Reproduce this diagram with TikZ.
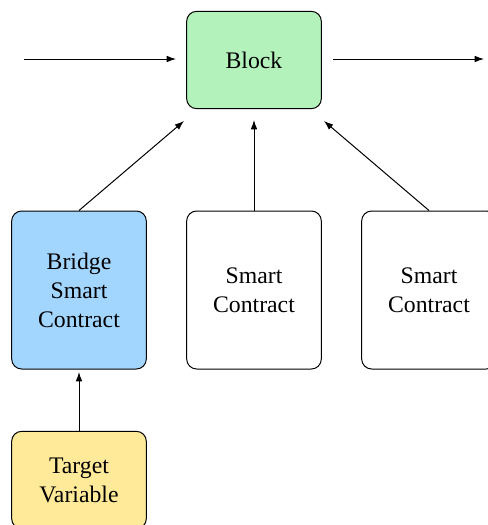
\documentclass[tikz,border=0pt]{standalone}
\usepackage{fontspec}
\setmainfont{Liberation Serif}
\newfontfamily\boxfont{Liberation Serif}
\usetikzlibrary{arrows.meta}
\definecolor{blockgreen}{RGB}{179,242,187}
\definecolor{bridgeblue}{RGB}{163,214,255}
\definecolor{targetyellow}{RGB}{255,234,153}
\tikzset{
  box/.style={draw=black, line width=0.75pt, rounded corners=7.5pt, align=center,
    minimum width=101pt, text width=90pt, font=\boxfont\fontsize{17.8}{21.8}\selectfont},
  shortbox/.style={box, minimum height=73pt},
  tallbox/.style={box, minimum height=118.5pt},
  conn/.style={line width=0.75pt, -{Latex[length=7pt,width=5pt]}}
}
\begin{document}
\begin{tikzpicture}[x=0.75pt,y=-0.75pt]
\useasboundingbox (0,0) rectangle (488,525);
\node[shortbox, fill=blockgreen] (block) at (254,60) {Block};
\node[tallbox, fill=bridgeblue] (bridge) at (79,290) {Bridge\\Smart\\Contract};
\node[tallbox, fill=white] (sc2) at (254,290) {Smart\\Contract};
\node[tallbox, fill=white] (sc3) at (429,290) {Smart\\Contract};
\node[shortbox, fill=targetyellow] (target) at (79,480) {Target\\Variable};
\coordinate (inL) at (24,59);
\coordinate (inR) at (176,59);
\coordinate (outL) at (333,59);
\coordinate (outR) at (484,59);
\coordinate (t1) at (184,121);
\coordinate (t2) at (254,120);
\coordinate (t3) at (324,121);
\coordinate (t4) at (79,372);
\draw[conn] (inL) -- (inR);
\draw[conn] (outL) -- (outR);
\draw[conn] (bridge.north) -- (t1);
\draw[conn] (sc2.north) -- (t2);
\draw[conn] (sc3.north) -- (t3);
\draw[conn] (target.north) -- (t4);
\end{tikzpicture}
\end{document}
